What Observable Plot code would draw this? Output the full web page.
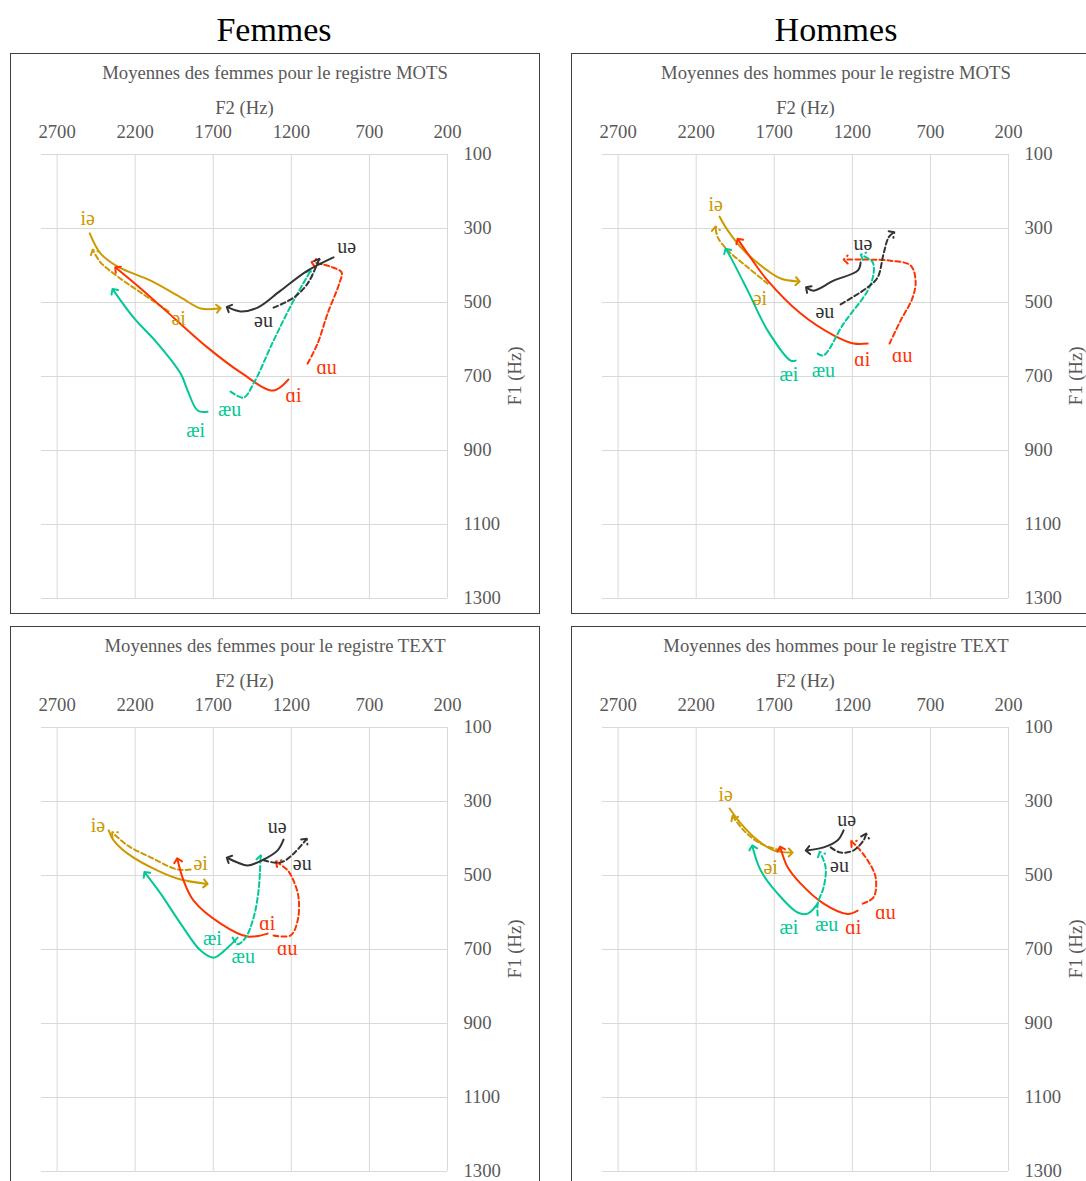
<!DOCTYPE html>
<html>
<head>
<meta charset="utf-8">
<script src="https://cdn.jsdelivr.net/npm/d3@7"></script>
<script src="https://cdn.jsdelivr.net/npm/@observablehq/plot@0.6"></script>
<style>
  body { margin: 0; background: #fff; }
  #root { position: relative; width: 1086px; height: 1181px; overflow: hidden; font-family: "Liberation Serif", "DejaVu Serif", serif; }
  .coltitle { position: absolute; top: 11px; width: 300px; text-align: center; font-size: 34px; color: #000; }
  .panel { position: absolute; width: 530px; height: 561px; }
  .panel svg { position: absolute; left: 0; top: 0; }
  .frame { position: absolute; left: 0; top: 0; right: 0; bottom: 0; border: 1px solid #404040; pointer-events: none; }
  .ptitle { position: absolute; left: 0; width: 530px; top: 9px; text-align: center; font-size: 18.7px; color: #595959; }
</style>
</head>
<body>
<div id="root"></div>
<script>
// ---- axes ----
const f2Ticks = [2700, 2200, 1700, 1200, 700, 200];
const f1Ticks = [100, 300, 500, 700, 900, 1100, 1300];

// ---- diphthongs ----
const vowels = ["iə", "əi", "ɑi", "ɑu", "æi", "æu", "uə", "əu"];
const vowelColors = ["#CC9900", "#CC9900", "#FF3300", "#FF3300", "#00C896", "#00C896", "#333333", "#333333"];
const vowelDashed = [false, true, false, true, false, true, false, true];

// ---- Femmes, MOTS : [F2, F1] ----
const fm_ie = [[2491,313],[2421,368],[2312,403],[2101,441],[1909,486],[1781,516],[1666,516]];
const fm_ei = [[1986,524],[2165,473],[2312,430],[2421,392],[2466,362]];
const fm_ai = [[1218,708],[1314,738],[1525,689],[1736,622],[1954,541],[2165,462],[2318,408]];
const fm_au = [[1096,665],[1032,611],[968,530],[891,446],[878,419],[949,403],[1058,392]];
const fm_aei = [[1736,795],[1800,792],[1864,738],[1909,692],[2056,611],[2210,541],[2338,468]];
const fm_aeu = [[1589,741],[1506,757],[1442,719],[1314,603],[1186,495],[1083,419]];
const fm_ue = [[930,378],[1096,414],[1269,468],[1416,514],[1525,524],[1602,514]];
const fm_eu = [[1314,514],[1186,487],[1096,449],[1026,387]];
const fm_labels = [[2504,273],[1922,543],[1186,751],[974,676],[1813,846],[1595,789],[846,349],[1378,549]];

// ---- Hommes, MOTS ----
const hm_ie = [[2050,268],[1998,305],[1896,359],[1742,414],[1659,435],[1550,443]];
const hm_ei = [[1742,449],[1870,405],[1998,359],[2062,324],[2075,300]];
const hm_ai = [[1102,611],[1192,611],[1320,589],[1531,530],[1742,441],[1870,368],[1928,332]];
const hm_au = [[962,611],[891,549],[814,487],[795,441],[827,400],[955,387],[1102,384],[1243,384]];
const hm_aei = [[1563,657],[1595,657],[1742,576],[1870,468],[1979,378],[2005,359]];
const hm_aeu = [[1422,638],[1384,643],[1256,557],[1102,468],[1064,422],[1070,391],[1134,373]];
const hm_ue = [[1147,392],[1166,414],[1320,441],[1448,468],[1486,462]];
const hm_eu = [[1275,505],[1102,459],[1038,432],[1000,368],[968,324],[942,313]];
const hm_labels = [[2075,235],[1792,490],[1136,655],[880,643],[1606,695],[1386,684],[1132,340],[1376,524]];

// ---- Femmes, TEXT ----
const ft_ie = [[2370,378],[2338,405],[2248,441],[2056,487],[1909,511],[1749,522]];
const ft_ei = [[1845,484],[1928,484],[2101,451],[2248,419],[2338,387]];
const ft_ai = [[1352,657],[1480,665],[1653,630],[1826,568],[1890,514],[1928,459]];
const ft_au = [[1314,662],[1205,662],[1160,622],[1154,559],[1186,514],[1224,486],[1288,465]];
const ft_aei = [[1544,668],[1608,695],[1698,722],[1781,703],[1909,630],[2037,549],[2133,495]];
const ft_aeu = [[1576,668],[1544,686],[1493,668],[1442,614],[1410,541],[1397,451]];
const ft_ue = [[1250,403],[1288,432],[1378,457],[1480,473],[1544,465],[1602,454]];
const ft_eu = [[1378,459],[1269,465],[1186,441],[1109,405]];
const ft_labels = [[2438,365],[1781,468],[1354,631],[1226,698],[1706,671],[1508,718],[1290,369],[1130,468]];

// ---- Hommes, TEXT ----
const ht_ie = [[1986,319],[1915,359],[1806,405],[1704,432],[1595,438]];
const ht_ei = [[1659,432],[1787,414],[1896,378],[1960,343]];
const ht_ai = [[1166,595],[1230,604],[1384,576],[1531,522],[1614,478],[1659,427]];
const ht_au = [[1134,576],[1064,559],[1051,505],[1102,459],[1166,424],[1198,411]];
const ht_aei = [[1422,576],[1486,603],[1550,600],[1678,549],[1787,486],[1838,424]];
const ht_aeu = [[1422,608],[1422,576],[1384,532],[1371,478],[1403,441]];
const ht_ue = [[1256,378],[1294,405],[1384,424],[1486,432]];
const ht_eu = [[1339,424],[1275,438],[1192,432],[1128,405],[1115,392]];
const ht_labels = [[2011,281],[1723,478],[1194,640],[987,599],[1606,640],[1365,632],[1237,349],[1282,473]];

const panels = [
  {title: "Moyennes des femmes pour le registre MOTS", left: 10, top: 53, series: [fm_ie, fm_ei, fm_ai, fm_au, fm_aei, fm_aeu, fm_ue, fm_eu], labels: fm_labels},
  {title: "Moyennes des hommes pour le registre MOTS", left: 571, top: 53, series: [hm_ie, hm_ei, hm_ai, hm_au, hm_aei, hm_aeu, hm_ue, hm_eu], labels: hm_labels},
  {title: "Moyennes des femmes pour le registre TEXT", left: 10, top: 626, series: [ft_ie, ft_ei, ft_ai, ft_au, ft_aei, ft_aeu, ft_ue, ft_eu], labels: ft_labels},
  {title: "Moyennes des hommes pour le registre TEXT", left: 571, top: 626, series: [ht_ie, ht_ei, ht_ai, ht_au, ht_aei, ht_aeu, ht_ue, ht_eu], labels: ht_labels}
];

const root = document.getElementById("root");
[["Femmes", 274], ["Hommes", 836]].forEach(([t, cx]) => {
  const d = document.createElement("div");
  d.className = "coltitle";
  d.style.left = (cx - 150) + "px";
  d.textContent = t;
  root.appendChild(d);
});

const grey = "#595959";
panels.forEach(p => {
  const wrap = document.createElement("div");
  wrap.className = "panel";
  wrap.style.left = p.left + "px";
  wrap.style.top = p.top + "px";
  const marks = [
    Plot.gridX(f2Ticks, {stroke: "#d9d9d9", strokeOpacity: 1, strokeWidth: 1}),
    Plot.gridY(f1Ticks, {stroke: "#d9d9d9", strokeOpacity: 1, strokeWidth: 1}),
    Plot.axisX(f2Ticks, {anchor: "top", tickSize: 0, tickPadding: 17, label: null, tickFormat: "d", fill: grey}),
    Plot.axisY(f1Ticks, {anchor: "right", tickSize: 0, tickPadding: 16, label: null, tickFormat: "d", fill: grey}),
    Plot.text(["F2 (Hz)"], {frameAnchor: "top", dy: -54, fill: grey}),
    Plot.text(["F1 (Hz)"], {frameAnchor: "right", dx: 68, dy: -30, rotate: -90, fill: grey})
  ];
  p.series.forEach((pts, i) => {
    marks.push(Plot.line(pts, {
      x: d => d[0], y: d => d[1],
      stroke: vowelColors[i], strokeWidth: 2,
      strokeDasharray: vowelDashed[i] ? "5,3" : null,
      curve: "catmull-rom", markerEnd: "arrow"
    }));
  });
  p.labels.forEach((l, i) => {
    marks.push(Plot.text([l], {x: d => d[0], y: d => d[1], text: () => vowels[i], fill: vowelColors[i], fontSize: 20}));
  });
  const svg = Plot.plot({
    width: 530, height: 561,
    marginLeft: 31, marginRight: 93, marginTop: 101, marginBottom: 16,
    x: {domain: [2800, 200]},
    y: {domain: [100, 1300], reverse: true},
    style: {fontFamily: "'Liberation Serif', 'DejaVu Serif', serif", fontSize: "18.7px", background: "transparent", overflow: "visible"},
    marks
  });
  wrap.appendChild(svg);
  const t = document.createElement("div");
  t.className = "ptitle";
  t.textContent = p.title;
  wrap.appendChild(t);
  const f = document.createElement("div");
  f.className = "frame";
  wrap.appendChild(f);
  root.appendChild(wrap);
});
</script>
</body>
</html>
